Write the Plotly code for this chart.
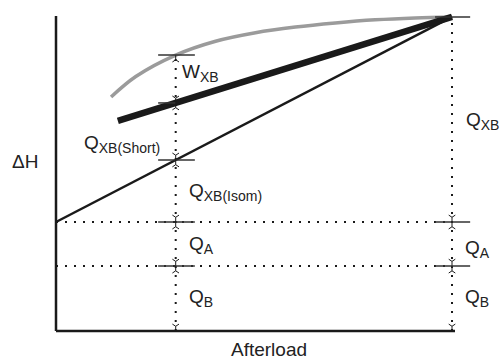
import plotly.graph_objects as go

# Schematic heat-vs-afterload diagram (arbitrary units, 0-100 on both axes)
axis_end_x = 100.0
axis_end_y = 100.0

x_mark = 30.0            # afterload where the components are dissected
x_peak = 99.25           # afterload at which all curves meet
basal_level = 20.6       # Q_B
activation_level = 34.6  # Q_B + Q_A
peak_heat = 99.7

# Isometric cross-bridge heat line
isom_x = [0.0, x_peak]
isom_y = [activation_level, peak_heat]

# Shortening heat line (thick)
short_x = [15.5, x_peak]
short_y = [66.7, peak_heat]
short_at_mark = 72.4
isom_at_mark = 54.3

# Total energy curve (grey)
total_x = [13.8, 20.0, 30.0, 40.0, 50.0, 60.0, 70.0, 80.0, 90.0, 99.25]
total_y = [74.3, 80.8, 87.6, 92.0, 94.7, 96.5, 97.8, 98.8, 99.4, 99.7]
total_at_mark = 87.6

INK = "#1a1a1a"
FONT = "Liberation Sans, Arial, Helvetica, sans-serif"
DOT = "2px,7px"

fig = go.Figure()


def seg(x, y, color=INK, width=2, dash=None):
    fig.add_trace(go.Scatter(x=x, y=y, mode="lines", hoverinfo="skip",
                             line=dict(color=color, width=width, dash=dash),
                             showlegend=False))


# dotted guides
seg([0, x_peak], [activation_level, activation_level], width=2, dash=DOT)
seg([0, x_peak], [basal_level, basal_level], width=2, dash=DOT)
seg([x_mark, x_mark], [0, total_at_mark], width=2, dash=DOT)
seg([x_peak, x_peak], [0, peak_heat], width=2, dash=DOT)

# curves
fig.add_trace(go.Scatter(x=total_x, y=total_y, mode="lines", hoverinfo="skip",
                         line=dict(color="#9b9b9b", width=3.5, shape="spline",
                                   smoothing=1.0),
                         showlegend=False))
seg(isom_x, isom_y, width=2.5)
seg(short_x, short_y, width=6.5)

# axes
seg([0, 0], [0, axis_end_y], width=2.5)
seg([0, axis_end_x], [0, 0], width=2.5)

# short tick bars
tick_w = 1.5
for yv in [total_at_mark, isom_at_mark, activation_level, basal_level]:
    seg([25.6, 34.8], [yv, yv], color="#333", width=tick_w)
seg([25.6, x_mark], [short_at_mark, short_at_mark], color="#333", width=tick_w)
for yv in [peak_heat, activation_level, basal_level]:
    seg([95.0, 103.8], [yv, yv], color="#333", width=tick_w)

# arrowheads on the dotted verticals
off = 1.5
down_x = [x_mark] * 5 + [x_peak] * 3
down_y = [short_at_mark, isom_at_mark, activation_level, basal_level, 0,
          activation_level, basal_level, 0]
up_x = [x_mark] * 5 + [x_peak] * 2
up_y = [total_at_mark, short_at_mark, isom_at_mark, activation_level, basal_level,
        activation_level, basal_level]
fig.add_trace(go.Scatter(x=down_x, y=[v + off for v in down_y], mode="markers",
                         hoverinfo="skip", showlegend=False,
                         marker=dict(symbol="y-down", size=5.5,
                                     line=dict(color=INK, width=1))))
fig.add_trace(go.Scatter(x=up_x, y=[v - off for v in up_y], mode="markers",
                         hoverinfo="skip", showlegend=False,
                         marker=dict(symbol="y-up", size=5.5,
                                     line=dict(color=INK, width=1))))


def sub(s):
    return "<sub><span style='font-size:14px'>" + s + "</span></sub>"


labels = [
    ("W" + sub("XB"), 31.3, 81.9, "left"),
    ("Q" + sub("XB(Short)"), 6.77, 59.5, "left"),
    ("Q" + sub("XB(Isom)"), 33.08, 44.1, "left"),
    ("Q" + sub("A"), 33.08, 27.3, "left"),
    ("Q" + sub("B"), 33.08, 10.5, "left"),
    ("Q" + sub("XB"), 102.5, 66.8, "left"),
    ("Q" + sub("A"), 102.26, 26.0, "left"),
    ("Q" + sub("B"), 102.26, 10.6, "left"),
    ("ΔH", -11.28, 53.8, "left"),
    ("Afterload", 53.5, -6.0, "center"),
]
for text, x, y, anchor in labels:
    fig.add_annotation(x=x, y=y, text=text, showarrow=False,
                       xanchor=anchor, yanchor="middle", borderpad=0,
                       font=dict(family=FONT, size=19, color="#222"))

fig.update_layout(
    width=502, height=360,
    margin=dict(l=0, r=0, t=0, b=0),
    paper_bgcolor="white", plot_bgcolor="white",
    xaxis=dict(range=[-14.035, 111.78], visible=False, fixedrange=True),
    yaxis=dict(range=[-9.206, 105.08], visible=False, fixedrange=True),
)

fig.write_html("out.html")
